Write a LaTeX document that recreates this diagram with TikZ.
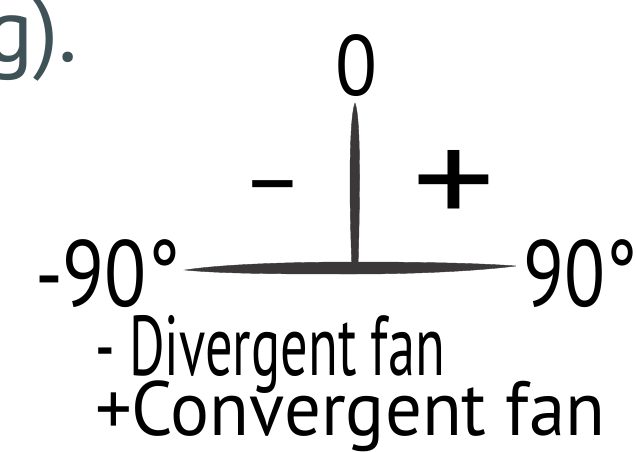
\documentclass[tikz,border=0pt]{standalone}
\usepackage{fontspec}
\setmainfont{PT Sans}
\usetikzlibrary{calc}

\definecolor{ink}{RGB}{0,0,0}
\definecolor{chalk}{RGB}{58,56,56}
\definecolor{slate}{RGB}{62,82,88}

\tikzset{
  glyph/.style={inner sep=0pt, outer sep=0pt, text=ink, anchor=north west},
  chalkline/.style={fill=chalk, draw=chalk, line width=0.4pt},
}

\begin{document}
\begin{tikzpicture}[x=1pt,y=1pt,yscale=-1]

\useasboundingbox (0,0) rectangle (637,452);
\clip (0,0) rectangle (637,452);

% end of the sentence above
\node[glyph, text=slate, anchor=base east, font=\fontsize{90}{90}\selectfont] (tail) at (78,62) {g).};

% axes
\coordinate (top) at (355,103);
\coordinate (base) at (355,268);
\coordinate (lend) at (185,270);
\coordinate (rend) at (516,266);

\fill[chalkline] (lend) .. controls +(40,-6) and +(-60,0) .. ($(base)+(0,-6)$) .. controls +(60,0) and +(-40,-3) .. (rend) .. controls +(-40,5) and +(60,0) .. ($(base)+(0,6)$) .. controls +(-60,0) and +(40,4) .. (lend) -- cycle;

\fill[chalkline] (top) .. controls +(6,15) and +(2,-70) .. ($(base)+(3,0)$) -- ($(base)+(-3,0)$) .. controls +(-3,-70) and +(-6,15) .. (top) -- cycle;

% labels
\node[glyph] (zero) at (335,35) {\resizebox*{42pt}{62pt}{0}};

\node[glyph, anchor=center, font=\fontsize{95}{95}\selectfont] (minus) at (273,196) {–};

\node[glyph] (plus) at (412,150) {\resizebox*{83pt}{75pt}{+}};

\node[glyph] (leftdeg) at (35,240) {\resizebox*{145pt}{68pt}{-90°}};

\node[glyph] (rightdeg) at (523,240) {\resizebox*{114pt}{68pt}{90°}};

% legend
\node[glyph] (diverg) at (95,315) {\resizebox*{350pt}{78pt}{- Divergent fan}};

\node[glyph] (converg) at (95,381) {\resizebox*{510pt}{71pt}{+Convergent fan}};

\end{tikzpicture}
\end{document}
